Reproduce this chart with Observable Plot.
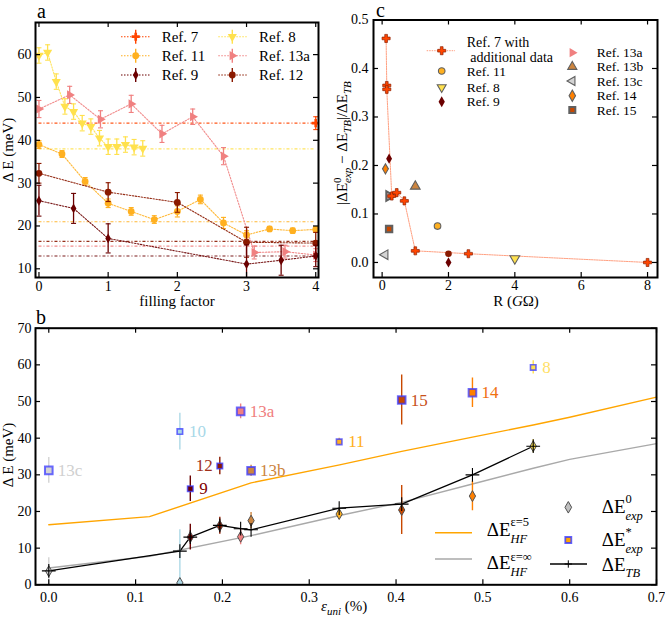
<!DOCTYPE html>
<html>
<head>
<meta charset="utf-8">
<script src="https://cdn.jsdelivr.net/npm/d3@7"></script>
<script src="https://cdn.jsdelivr.net/npm/@observablehq/plot@0.6"></script>
<style>
  html,body{margin:0;padding:0;background:#fff;}
  #fig{position:relative;width:665px;height:619px;overflow:hidden;font-family:"Liberation Serif","DejaVu Serif","Times New Roman",Times,"Noto Serif",serif;}
  #fig svg{position:absolute;}
  #fig svg, #fig svg text, #fig svg tspan{font-family:"Liberation Serif","DejaVu Serif","Times New Roman",Times,"Noto Serif","Liberation Sans",serif !important;}
</style>
</head>
<body>
<div id="fig"></div>
<script>
// ================= DATA =================
// ---- Panel a: gap (meV) vs filling factor ----
const aRef7Fill = [4];
const aRef7Gap  = [44.0];
const aRef7Err  = [1.5];

const aRef8Fill = [0, 0.125, 0.25, 0.375, 0.5, 0.625, 0.75, 0.875, 1, 1.125, 1.25, 1.375, 1.5];
const aRef8Gap  = [59.8, 60.5, 53.7, 47.9, 46.7, 44.0, 43.2, 40.5, 38.5, 38.5, 39.0, 38.4, 38.1];
const aRef8Err  = [1.8, 1.8, 1.8, 1.8, 1.8, 1.8, 1.8, 1.8, 1.8, 1.8, 1.8, 1.8, 1.8];

const aRef11Fill = [0, 0.333, 0.667, 1, 1.333, 1.667, 2, 2.333, 2.667, 3, 3.333, 3.667, 4];
const aRef11Gap  = [39.0, 36.8, 30.4, 25.3, 23.4, 21.5, 23.4, 26.2, 20.7, 17.9, 19.3, 18.9, 19.2];
const aRef11Err  = [0.9, 0.8, 0.9, 1.0, 0.9, 0.9, 1.3, 1.0, 1.3, 1.0, 0.6, 0.6, 0.6];

const aRef13aFill = [0, 0.444, 0.889, 1.333, 1.778, 2.222, 2.667, 3.111, 3.556, 4];
const aRef13aGap  = [47.3, 50.6, 44.9, 48.5, 41.5, 45.5, 36.3, 13.8, 14.0, 13.2];
const aRef13aErr  = [2.0, 2.0, 2.0, 2.0, 2.0, 1.8, 2.0, 1.5, 1.5, 1.5];

const aRef9Fill = [0, 0.5, 1, 3, 3.5, 4];
const aRef9Gap  = [25.9, 24.1, 17.1, 11.1, 12.0, 13.0];
const aRef9Err  = [3.6, 3.5, 3.4, 4.5, 3.5, 2.5];

const aRef12Fill = [0, 1, 2, 3, 4];
const aRef12Gap  = [32.3, 27.9, 25.5, 16.2, 16.0];
const aRef12Err  = [2.3, 2.2, 2.3, 3.5, 2.5];

const aLevelRefs   = ["7", "8", "11", "12", "13a", "9"];
const aLevelValues = [44.0, 38.0, 21.0, 16.4, 15.3, 13.0];

const aXTicks = [0, 1, 2, 3, 4];
const aYTicks = [10, 20, 30, 40, 50, 60];

// ---- Panel c: relative deviation vs resistance (GOhm) ----
const cRef7R   = [0.12, 0.14, 0.14, 0.29, 0.44, 0.67, 1.0, 2.6, 8.0];
const cRef7Dev = [0.462, 0.365, 0.357, 0.137, 0.144, 0.127, 0.024, 0.018, 0.0];
const cOtherRefs = ["11", "8", "9", "9", "12", "13a", "13b", "13c", "14", "15"];
const cOtherR    = [1.67, 4.0, 0.21, 2.0, 2.0, 0.21, 1.0, 0.09, 0.1, 0.21];
const cOtherDev  = [0.075, 0.008, 0.214, 0.0, 0.018, 0.137, 0.157, 0.016, 0.193, 0.069];
const cXTicks = [0, 2, 4, 6, 8];
const cYTicks = [0, 0.1, 0.2, 0.3, 0.4, 0.5];

// ---- Panel b: gap (meV) vs uniaxial strain (%) ----
const bRefs     = ["13c", "10", "9", "12", "13a", "13b", "11", "15", "14", "8"];
const bStrain   = [0.0, 0.151, 0.163, 0.197, 0.221, 0.233, 0.3345, 0.4065, 0.488, 0.558];
const bStarGap  = [31.2, 41.8, 26.2, 32.4, 47.3, 31.1, 39.0, 50.4, 52.4, 59.3];
const bStarErr  = [3.5, 5.0, 3.5, 2.4, 2.0, 1.5, 1.0, 6.8, 4.0, 1.8];
const bZeroGap  = [3.7, 0.5, 13.0, 16.1, 13.1, 17.5, 19.3, 20.4, 24.2, 37.8];
const bZeroErr  = [3.7, 14.5, 3.5, 2.3, 2.2, 2.2, 1.0, 6.7, 4.0, 1.8];
const bTBGap    = [3.8, 9.2, 13.0, 16.2, 15.3, 15.0, 20.9, 22.0, 30.0, 37.8];

const hfStrain  = [0, 0.116, 0.233, 0.335, 0.4065, 0.488, 0.558, 0.6, 0.7];
const hfEps5    = [16.4, 18.6, 27.8, 32.7, 36.4, 40.3, 43.6, 45.7, 51.2];
const hfEpsInf  = [4.6, 7.8, 13.4, 18.9, 22.5, 27.5, 31.8, 34.2, 38.5];

const bXTicks = [0, 0.1, 0.2, 0.3, 0.4, 0.5, 0.6, 0.7];
const bYTicks = [0, 10, 20, 30, 40, 50, 60, 70];

// ================= STYLES =================
const FONT = '"Liberation Serif", "DejaVu Serif", "Times New Roman", Times, "Noto Serif", "Liberation Sans", serif';
const refColor = {"7":"#ff4500","8":"#ffe14d","9":"#6b0000","10":"#add8e6","11":"#ffb020","12":"#8b1a00",
  "13a":"#f08080","13b":"#cd853f","13c":"#d3d3d3","14":"#ff8000","15":"#c84800"};
const labelColor = {"7":"#ff4500","8":"#ffe066","9":"#800000","10":"#a8d8e8","11":"#ffb020","12":"#a0301a",
  "13a":"#f08080","13b":"#cd853f","13c":"#d0d0d0","14":"#f07010","15":"#c8501a"};
const refSymbol = {"7":["cross",0],"8":["triangle",180],"9":["diamond",0],"10":["diamond",0],"11":["circle",0],
  "12":["circle",0],"13a":["triangle",90],"13b":["triangle",0],"13c":["triangle",-90],"14":["diamond",0],"15":["square",0]};
const bigStar = ["13c", "13a", "13b", "15", "14"];
const capSymbol = { draw(ctx) { ctx.moveTo(-2.5, 0); ctx.lineTo(2.5, 0); } };

const fig = document.getElementById("fig");
function put(svg, left, top) { svg.style.left = left + "px"; svg.style.top = top + "px"; fig.appendChild(svg); }
const baseStyle = {fontFamily: FONT, fontSize: "14px", background: "transparent", overflow: "visible"};

function frameTicks(xt, yt, fw, fh, len) {
  return [
    Plot.frame({stroke: "black", strokeWidth: 2}),
    Plot.tickX(xt, {x: d => d, insetTop: fh - len, strokeWidth: 1.2}),
    Plot.tickX(xt, {x: d => d, insetBottom: fh - len, strokeWidth: 1.2}),
    Plot.tickY(yt, {y: d => d, insetRight: fw - len, strokeWidth: 1.2}),
    Plot.tickY(yt, {y: d => d, insetLeft: fw - len, strokeWidth: 1.2})
  ];
}

// ================= PANEL a =================
{
  const W = 330, H = 310, ML = 35, MR = 12, MT = 22, MB = 33;
  const aSeries = [
    ["13a", aRef13aFill, aRef13aGap, aRef13aErr],
    ["8", aRef8Fill, aRef8Gap, aRef8Err],
    ["11", aRef11Fill, aRef11Gap, aRef11Err],
    ["12", aRef12Fill, aRef12Gap, aRef12Err],
    ["9", aRef9Fill, aRef9Gap, aRef9Err],
    ["7", aRef7Fill, aRef7Gap, aRef7Err]
  ];
  const levels = aLevelValues.map((v, i) => ({v, ref: aLevelRefs[i]}));
  const marks = [
    Plot.ruleY(levels, {y: "v", x1: d3.min(aXTicks), x2: d3.max(aXTicks), stroke: d => refColor[d.ref],
      strokeWidth: 1.1, strokeDasharray: "3,2,1,2", strokeOpacity: 0.9})
  ];
  for (const [ref, xs, ys, es] of aSeries) {
    const d = xs.map((x, i) => ({x, y: ys[i], e: es[i]}));
    const c = refColor[ref], [sym, rot] = refSymbol[ref];
    marks.push(
      Plot.line(d, {x: "x", y: "y", stroke: c, strokeWidth: 1.1, strokeDasharray: "1.5,1.5", strokeOpacity: 0.9}),
      Plot.ruleX(d, {x: "x", y1: q => q.y - q.e, y2: q => q.y + q.e, stroke: c, strokeWidth: 1.3, clip: true}),
      Plot.dot(d, {x: "x", y: q => q.y - q.e, symbol: capSymbol, stroke: c, strokeWidth: 1.1, clip: true}),
      Plot.dot(d, {x: "x", y: q => q.y + q.e, symbol: capSymbol, stroke: c, strokeWidth: 1.1, clip: true}),
      Plot.dot(d, {x: "x", y: "y", symbol: sym, rotate: rot, r: ref === "9" ? 3.0 : 3.4, fill: c, stroke: "none", clip: true})
    );
  }
  marks.push(...frameTicks(aXTicks, aYTicks, W - ML - MR, H - MT - MB, 5));
  marks.push(
    Plot.axisX(aXTicks, {tickSize: 0, tickPadding: 4, label: null, fontSize: 14}),
    Plot.axisY(aYTicks, {tickSize: 0, tickPadding: 4, label: null, fontSize: 14})
  );
  put(Plot.plot({width: W, height: H, marginLeft: ML, marginRight: MR, marginTop: MT, marginBottom: MB,
    style: baseStyle, x: {domain: [-0.05, 4.04]}, y: {domain: [7.97, 67.5]}, marks}), 0, 0);
}

// ================= PANEL c =================
{
  const W = 335, H = 310, ML = 43, MR = 8, MT = 19.5, MB = 33;
  const r7 = cRef7R.map((x, i) => ({x, y: cRef7Dev[i]}));
  const others = cOtherRefs.map((ref, i) => ({ref, x: cOtherR[i], y: cOtherDev[i]}));
  const marks = [
    Plot.line(r7, {x: "x", y: "y", stroke: "#ff9f80", strokeWidth: 1, strokeDasharray: "1.5,1"})
  ];
  for (const o of others) {
    const [sym, rot] = refSymbol[o.ref];
    const dark = o.ref === "9" || o.ref === "12";
    marks.push(Plot.dot([o], {x: "x", y: "y", symbol: sym, rotate: rot,
      r: sym === "square" ? 3.6 : sym === "circle" ? 3.3 : sym === "diamond" ? 3.1 : 3.6,
      fill: o.ref === "13a" ? "#c9a0a0" : refColor[o.ref],
      stroke: dark ? "none" : "#606060", strokeWidth: o.ref === "15" || o.ref === "13a" ? 2 : 1.1}));
  }
  marks.push(Plot.dot(r7, {x: "x", y: "y", symbol: "cross", r: 3.4, fill: "#ff4500", stroke: "#8b2000", strokeWidth: 0.7}));
  marks.push(...frameTicks(cXTicks, cYTicks, W - ML - MR, H - MT - MB, 5));
  marks.push(
    Plot.axisX(cXTicks, {tickSize: 0, tickPadding: 3, label: null, fontSize: 14}),
    Plot.axisY(cYTicks, {tickSize: 0, tickPadding: 5, label: null, fontSize: 14, tickFormat: d3.format(".1f")})
  );
  put(Plot.plot({width: W, height: H, marginLeft: ML, marginRight: MR, marginTop: MT, marginBottom: MB,
    style: baseStyle, x: {domain: [-0.26, 8.3]}, y: {domain: [-0.031, 0.5]}, marks}), 330, 0);
}

// ================= PANEL b =================
{
  const W = 665, H = 314, ML = 35, MR = 9, MT = 22.7, MB = 34.7;
  const rows = bRefs.map((ref, i) => ({ref, x: bStrain[i], star: bStarGap[i], se: bStarErr[i],
    zero: bZeroGap[i], ze: bZeroErr[i], tb: bTBGap[i]}));
  const hf5 = hfStrain.map((x, i) => ({x, y: hfEps5[i]}));
  const hfInf = hfStrain.map((x, i) => ({x, y: hfEpsInf[i]}));
  const marks = [
    Plot.line(hf5, {x: "x", y: "y", stroke: "#ffa500", strokeWidth: 1.4}),
    Plot.line(hfInf, {x: "x", y: "y", stroke: "#a9a9a9", strokeWidth: 1.4}),
    Plot.line(rows, {x: "x", y: "tb", stroke: "black", strokeWidth: 1.3}),
    Plot.ruleX(rows, {x: "x", y1: d => d.star - d.se, y2: d => d.star + d.se, stroke: d => refColor[d.ref], strokeWidth: 1.4, clip: true}),
    Plot.ruleX(rows, {x: "x", y1: d => d.zero - d.ze, y2: d => d.zero + d.ze, stroke: d => refColor[d.ref], strokeWidth: 1.4, clip: true}),
    Plot.dot(rows, {x: "x", y: "zero", symbol: "diamond", r: 3.3, fill: d => refColor[d.ref], stroke: "#505050", strokeWidth: 1, clip: true}),
    Plot.dot(rows.filter(d => bigStar.includes(d.ref)), {x: "x", y: "star", symbol: "square", r: 4.3,
      fill: d => refColor[d.ref], stroke: "#3a3aff", strokeOpacity: 0.75, strokeWidth: 2}),
    Plot.dot(rows.filter(d => !bigStar.includes(d.ref)), {x: "x", y: "star", symbol: "square", r: 3.1,
      fill: d => refColor[d.ref], stroke: "#3a3aff", strokeOpacity: 0.75, strokeWidth: 1.6}),
    Plot.dot(rows, {x: "x", y: "tb", symbol: "plus", r: 4.5, stroke: "black", strokeWidth: 1.1}),
    Plot.text(rows.filter(d => d.ref !== "12"), {x: "x", y: "star", text: "ref", dx: 9, textAnchor: "start",
      fill: d => labelColor[d.ref], fontSize: 17}),
    Plot.text(rows.filter(d => d.ref === "12"), {x: "x", y: "star", text: "ref", dx: -7, textAnchor: "end",
      fill: d => labelColor[d.ref], fontSize: 17})
  ];
  marks.push(...frameTicks(bXTicks, bYTicks, W - ML - MR, H - MT - MB, 5));
  marks.push(
    Plot.axisX(bXTicks, {tickSize: 0, tickPadding: 7, label: null, fontSize: 14, tickFormat: d3.format(".1f")}),
    Plot.axisY(bYTicks, {tickSize: 0, tickPadding: 4, label: null, fontSize: 14})
  );
  put(Plot.plot({width: W, height: H, marginLeft: ML, marginRight: MR, marginTop: MT, marginBottom: MB,
    style: baseStyle, x: {domain: [-0.0153, 0.7]}, y: {domain: [0, 70]}, marks}), 0, 305);
}

// ================= OVERLAY: labels & legends =================
const ov = d3.create("svg").attr("width", 665).attr("height", 619).attr("font-family", FONT)
  .style("left", "0px").style("top", "0px").style("overflow", "visible");
fig.appendChild(ov.node());

function richText(parent, parts, {x = 0, y = 0, size = 15, small = 11, sup = -6, sub = 4, anchor = "start", transform = null, fill = "black"} = {}) {
  const t = parent.append("text").attr("font-size", size).attr("fill", fill).attr("text-anchor", anchor);
  if (transform) t.attr("transform", transform); else t.attr("x", x).attr("y", y);
  let shift = 0;
  for (const p of parts) {
    if (typeof p === "string") {
      t.append("tspan").attr("dy", -shift).text(p); shift = 0;
    } else if (p.it != null) {
      t.append("tspan").attr("dy", -shift).attr("font-style", "italic").text(p.it); shift = 0;
    } else if (p.sup != null) {
      const s = t.append("tspan").attr("dy", sup - shift).attr("font-size", small).text(p.sup);
      shift = sup;
      if (p.sub != null) {
        const L = s.node().getComputedTextLength();
        t.append("tspan").attr("dx", -L).attr("dy", sub - shift).attr("font-size", small).attr("font-style", "italic").text(p.sub);
        shift = sub;
      }
    } else if (p.sub != null) {
      t.append("tspan").attr("dy", sub - shift).attr("font-size", small).attr("font-style", "italic").text(p.sub);
      shift = sub;
    }
  }
  return t;
}
const symType = {circle: d3.symbolCircle, cross: d3.symbolCross, diamond: d3.symbolDiamond,
  square: d3.symbolSquare, triangle: d3.symbolTriangle, plus: d3.symbolPlus};
function sym(g, x, y, name, rot, r, fill, stroke, sw, so = 1) {
  g.append("path").attr("d", d3.symbol(symType[name], Math.PI * r * r)())
    .attr("transform", `translate(${x},${y}) rotate(${rot})`)
    .attr("fill", fill).attr("stroke", stroke).attr("stroke-width", sw).attr("stroke-opacity", so);
}

// panel letters
ov.append("text").attr("x", 37).attr("y", 18).attr("font-size", 20).text("a");
ov.append("text").attr("x", 376).attr("y", 17).attr("font-size", 20).text("c");
ov.append("text").attr("x", 36).attr("y", 324).attr("font-size", 20).text("b");

// axis titles
richText(ov, ["Δ E (meV)"], {transform: "translate(13,150) rotate(-90)", anchor: "middle", size: 15});
richText(ov, ["filling factor"], {x: 177, y: 306, anchor: "middle", size: 15});
richText(ov, ["Δ E (meV)"], {transform: "translate(13,455) rotate(-90)", anchor: "middle", size: 15});
richText(ov, [{it: "ε"}, {sub: "uni"}, " (%)"], {x: 321, y: 611, size: 15, small: 11, sub: 4});
richText(ov, ["R (", {it: "G"}, "Ω)"], {x: 516, y: 306, anchor: "middle", size: 15});
richText(ov, ["|ΔE", {sup: "0", sub: "exp"}, " − ΔE", {sub: "TB"}, "|/ΔE", {sub: "TB"}],
  {transform: "translate(347,143) rotate(-90)", anchor: "middle", size: 15, small: 11, sup: -6, sub: 4});

// legend a
{
  const items = [
    ["7", 121, 150, 135.7, 36.7, 161.7], ["11", 121, 150, 135.7, 55.7, 161.7], ["9", 121, 150, 135.7, 75, 161.7],
    ["8", 218.3, 246.7, 232.3, 36.7, 259], ["13a", 218.3, 246.7, 232.3, 55.7, 259], ["12", 218.3, 246.7, 232.3, 75, 259]
  ];
  for (const [ref, x1, x2, xm, y, xt] of items) {
    const c = refColor[ref], [s, rot] = refSymbol[ref];
    ov.append("line").attr("x1", x1).attr("x2", x2).attr("y1", y).attr("y2", y).attr("stroke", c)
      .attr("stroke-width", 1.1).attr("stroke-dasharray", "1.5,1.5");
    ov.append("line").attr("x1", xm).attr("x2", xm).attr("y1", y - 7).attr("y2", y + 7).attr("stroke", c).attr("stroke-width", 1.4);
    sym(ov, xm, y, s, rot, ref === "9" ? 3.0 : 3.4, c, "none", 0);
    ov.append("text").attr("x", xt).attr("y", y + 5).attr("font-size", 15).text(`Ref. ${ref}`);
  }
}

// legend c
{
  ov.append("line").attr("x1", 426.7).attr("x2", 455).attr("y1", 50.7).attr("y2", 50.7)
    .attr("stroke", "#ff9f80").attr("stroke-width", 1).attr("stroke-dasharray", "1.5,1");
  sym(ov, 441.7, 50.7, "cross", 0, 3.4, "#ff4500", "#8b2000", 0.7);
  ov.append("text").attr("x", 466.7).attr("y", 46.5).attr("font-size", 14).text("Ref. 7 with");
  ov.append("text").attr("x", 466.7).attr("y", 61.5).attr("font-size", 14).text("\u00a0additional data");
  const left = [["11", 71], ["8", 87.3], ["9", 101.7]];
  for (const [ref, y] of left) {
    const [s, rot] = refSymbol[ref];
    sym(ov, 441.7, y, s, rot, 3.3, refColor[ref], ref === "9" ? "none" : "#606060", 1.1);
    ov.append("text").attr("x", 466.7).attr("y", y + 4.6).attr("font-size", 13.5).text(`Ref. ${ref}`);
  }
  const right = [["13a", 52.7], ["13b", 66.7], ["13c", 81], ["14", 95.7], ["15", 110]];
  for (const [ref, y] of right) {
    const [s, rot] = refSymbol[ref];
    sym(ov, 572.3, y, s, rot, 3.4, refColor[ref], ref === "13a" ? "none" : "#606060", ref === "15" ? 2 : 1.1);
    ov.append("text").attr("x", 596.7).attr("y", y + 4.6).attr("font-size", 13.5).text(`Ref. ${ref}`);
  }
}

// legend b
{
  ov.append("line").attr("x1", 435).attr("x2", 472).attr("y1", 532.7).attr("y2", 532.7).attr("stroke", "#ffa500").attr("stroke-width", 1.4);
  ov.append("line").attr("x1", 435).attr("x2", 472).attr("y1", 559).attr("y2", 559).attr("stroke", "#a9a9a9").attr("stroke-width", 1.4);
  ov.append("line").attr("x1", 550).attr("x2", 587).attr("y1", 564).attr("y2", 564).attr("stroke", "black").attr("stroke-width", 1.3);
  sym(ov, 568.3, 564, "plus", 0, 2.5, "none", "black", 1);
  sym(ov, 568.3, 507.3, "diamond", 0, 3.5, "#c0c0c0", "#505050", 1);
  sym(ov, 568.3, 540, "square", 0, 3.4, "#ffa500", "#3a3aff", 1.8, 0.8);
  const o = {size: 19, small: 12.5};
  richText(ov, ["ΔE", {sup: "ε=5", sub: "HF"}], {x: 486.7, y: 536, ...o, sup: -10, sub: 7});
  richText(ov, ["ΔE", {sup: "ε=∞", sub: "HF"}], {x: 486.7, y: 569, ...o, sup: -8, sub: 7});
  richText(ov, ["ΔE", {sup: "0", sub: "exp"}], {x: 601.7, y: 513.3, ...o, sup: -10, sub: 7});
  richText(ov, ["ΔE", {sup: "*", sub: "exp"}], {x: 601.7, y: 545.7, ...o, sup: -10, sub: 7});
  richText(ov, ["ΔE", {sub: "TB"}], {x: 601.7, y: 571, ...o, sub: 6});
}
</script>
</body>
</html>
